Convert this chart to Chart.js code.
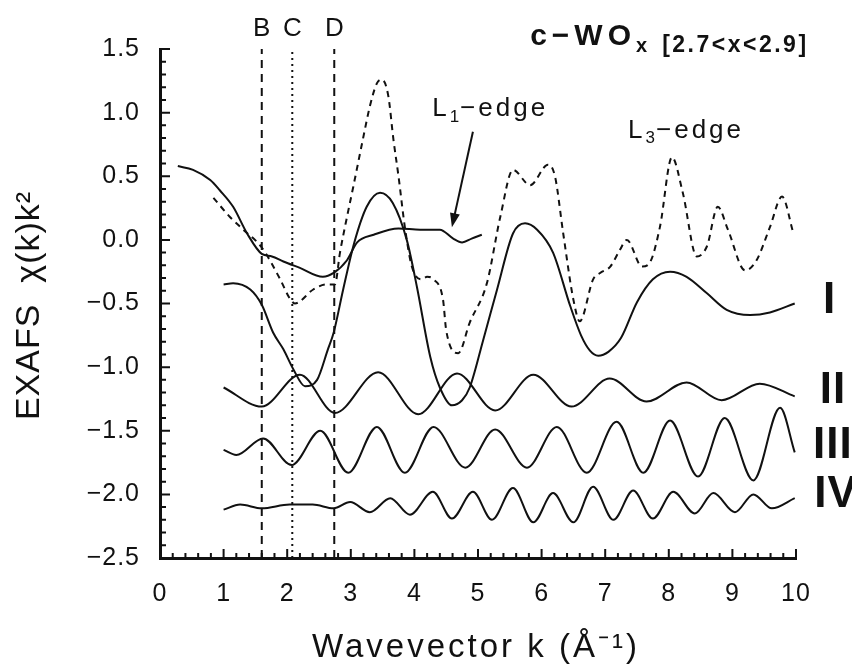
<!DOCTYPE html>
<html>
<head>
<meta charset="utf-8">
<script src="https://cdn.jsdelivr.net/npm/chart.js@4.4.1/dist/chart.umd.min.js"></script>
<style>
  body { margin: 0; background: #fff; }
  canvas { display: block; }
</style>
</head>
<body>
<canvas id="chart" width="852" height="667"></canvas>
<script>
// Values: k in 1/Å, chi(k)k^2 with the vertical offsets as plotted.
const RAW_K = [0.28, 0.52, 0.79, 0.94, 1.15, 1.37, 1.60, 1.76, 1.94, 2.20, 2.56, 2.73, 2.94, 3.10, 3.36, 3.75, 4.09, 4.40, 4.61, 4.75, 4.90, 5.06];
const RAW_V = [0.58, 0.55, 0.47, 0.39, 0.26, 0.05, -0.11, -0.13, -0.17, -0.22, -0.29, -0.26, -0.16, -0.02, 0.04, 0.09, 0.08, 0.08, 0.01, -0.02, 0.01, 0.04];

const MEAS_K = [0.84, 1.10, 1.31, 1.60, 1.89, 2.04, 2.12, 2.41, 2.62, 2.75, 2.83, 2.94, 3.04, 3.19, 3.30, 3.41, 3.49, 3.59, 3.67, 3.75,
  3.85, 3.96, 4.11, 4.20, 4.30, 4.45, 4.50, 4.69, 4.87, 5.14, 5.35, 5.55, 5.82, 6.10, 6.21, 6.34, 6.50, 6.60, 6.81, 6.92,
  7.08, 7.23, 7.34, 7.58, 7.70, 7.86, 8.05, 8.22, 8.44, 8.60, 8.77, 8.93, 9.20, 9.38, 9.59, 9.78, 9.96];
const MEAS_V = [0.33, 0.18, 0.08, -0.06, -0.31, -0.46, -0.50, -0.39, -0.35, -0.35, -0.10, 0.18, 0.42, 0.79, 1.05, 1.23, 1.26, 1.13, 0.79, 0.50,
  0.10, -0.21, -0.31, -0.29, -0.31, -0.47, -0.71, -0.89, -0.65, -0.34, 0.18, 0.55, 0.43, 0.59, 0.50, 0.05, -0.47, -0.64, -0.31, -0.26,
  -0.21, -0.08, 0.00, -0.21, -0.18, 0.10, 0.65, 0.37, -0.13, -0.05, 0.26, 0.08, -0.24, -0.16, 0.10, 0.34, 0.05];

const I_K = [1.00, 1.15, 1.42, 1.60, 1.78, 1.94, 2.10, 2.28, 2.47, 2.64, 2.73, 2.88, 3.05, 3.25, 3.46, 3.66, 3.88, 4.04, 4.25, 4.40, 4.59,
  4.75, 4.87, 5.08, 5.30, 5.55, 5.74, 5.93, 6.18, 6.45, 6.62, 6.76, 6.89, 7.05, 7.25, 7.50, 7.75, 8.02, 8.28, 8.60, 8.91, 9.28, 9.59, 9.98];
const I_V = [-0.35, -0.34, -0.39, -0.51, -0.73, -0.86, -1.02, -1.15, -1.10, -0.86, -0.73, -0.39, -0.03, 0.26, 0.37, 0.29, 0.00, -0.37, -0.92, -1.16, -1.30,
  -1.26, -1.16, -0.79, -0.39, 0.05, 0.13, 0.08, -0.10, -0.52, -0.75, -0.87, -0.91, -0.88, -0.77, -0.49, -0.31, -0.25, -0.29, -0.42, -0.55, -0.59, -0.57, -0.50];

const II_K = [1.00, 1.60, 2.20, 2.75, 3.43, 4.06, 4.67, 5.27, 5.87, 6.47, 7.07, 7.65, 8.28, 8.83, 9.43, 9.98];
const II_V = [-1.16, -1.31, -1.06, -1.36, -1.04, -1.37, -1.05, -1.34, -1.06, -1.31, -1.09, -1.27, -1.12, -1.26, -1.13, -1.23];

const III_K = [1.00, 1.20, 1.62, 2.07, 2.52, 2.96, 3.41, 3.85, 4.30, 4.80, 5.27, 5.77, 6.24, 6.71, 7.18, 7.60, 8.02, 8.46, 8.88, 9.33, 9.75, 9.98];
const III_V = [-1.65, -1.69, -1.56, -1.77, -1.50, -1.83, -1.47, -1.83, -1.47, -1.79, -1.49, -1.79, -1.47, -1.83, -1.43, -1.83, -1.42, -1.86, -1.40, -1.89, -1.32, -1.67];

const IV_K = [1.00, 1.26, 1.60, 2.04, 2.40, 2.73, 2.99, 3.30, 3.62, 3.93, 4.29, 4.59, 4.92, 5.22, 5.55, 5.87, 6.18, 6.50, 6.81, 7.13,
  7.44, 7.75, 8.07, 8.41, 8.70, 9.04, 9.33, 9.62, 9.98];
const IV_V = [-2.12, -2.08, -2.11, -2.08, -2.08, -2.11, -2.06, -2.14, -2.03, -2.16, -1.98, -2.19, -1.98, -2.20, -1.95, -2.22, -1.99, -2.22, -1.94, -2.20,
  -1.97, -2.19, -1.98, -2.15, -1.99, -2.14, -2.00, -2.11, -2.03];

// vertical guide lines B, C, D
const MARK_LABELS = ['B', 'C', 'D'];
const MARK_K = [1.60, 2.08, 2.74];

const X_MIN = 0, X_MAX = 10;
const Y_MIN = -2.5, Y_MAX = 1.5;

const FONT = "'Liberation Sans', Arial, sans-serif";
const INK = '#111';

Chart.defaults.font.family = FONT;

function toPoints(ks, vs) {
  return ks.map((k, i) => ({ x: k, y: vs[i] }));
}

function curve(ks, vs, dash) {
  return {
    data: toPoints(ks, vs),
    borderColor: INK,
    borderWidth: 2,
    borderDash: dash || [],
    pointRadius: 0,
    cubicInterpolationMode: 'monotone',
  };
}

function guide(k, dash) {
  return {
    data: [{ x: k, y: Y_MIN }, { x: k, y: Y_MAX }],
    borderColor: INK,
    borderWidth: 2,
    borderDash: dash,
    pointRadius: 0,
    tension: 0,
  };
}

// the scanned lettering is widely spaced; tick labels get a little extra
const spacing = {
  id: 'spacing',
  beforeDraw(chart) {
    chart.ctx.letterSpacing = '1px';
  },
};

// small inward ticks: 0.2 steps on k, 0.1 steps on the y axis
const inwardTicks = {
  id: 'inwardTicks',
  afterDraw(chart) {
    const { ctx, scales: { x, y } } = chart;
    ctx.save();
    ctx.strokeStyle = INK;
    ctx.lineWidth = 2;
    ctx.beginPath();
    for (let i = 0; i <= 50; i++) {
      const px = x.getPixelForValue(X_MIN + i * 0.2);
      const len = i % 5 === 0 ? 9 : 5;
      ctx.moveTo(px, y.bottom);
      ctx.lineTo(px, y.bottom - len);
    }
    for (let i = 0; i <= 40; i++) {
      const py = y.getPixelForValue(Y_MIN + i * 0.1);
      const len = i % 5 === 0 ? 10 : 6;
      ctx.moveTo(x.left, py);
      ctx.lineTo(x.left + len, py);
    }
    ctx.stroke();
    ctx.restore();
  },
};

function text(ctx, str, px, py, font, gap) {
  ctx.font = font;
  ctx.letterSpacing = (gap || 0) + 'px';
  ctx.fillText(str, px, py);
  return ctx.measureText(str).width;
}

// axis titles, labels, formula and arrow
const notes = {
  id: 'notes',
  afterDraw(chart) {
    const { ctx, scales: { x, y } } = chart;
    const px = k => x.getPixelForValue(k);
    const py = v => y.getPixelForValue(v);
    ctx.save();
    ctx.fillStyle = INK;
    ctx.strokeStyle = INK;

    // axis titles
    ctx.textAlign = 'center';
    ctx.textBaseline = 'middle';
    text(ctx, 'Wavevector k (Å⁻¹)', (x.left + x.right) / 2 - 2, 648, '33px ' + FONT, 3);
    ctx.save();
    ctx.translate(30, (y.top + y.bottom) / 2 + 2);
    ctx.rotate(-Math.PI / 2);
    text(ctx, 'EXAFS  χ(k)k²', 0, 0, '34px ' + FONT, 1);
    ctx.restore();

    ctx.textBaseline = 'alphabetic';

    // guide labels
    MARK_LABELS.forEach((s, i) => text(ctx, s, px(MARK_K[i]), py(1.60), '26px ' + FONT, 0));

    // c-WOx [2.7<x<2.9]
    ctx.textAlign = 'left';
    let cx = px(5.82);
    cx += text(ctx, 'c−WO', cx, py(1.53), 'bold 30px ' + FONT, 5);
    cx += text(ctx, 'x', cx, py(1.48), 'bold 20px ' + FONT, 0) + 15;
    text(ctx, '[2.7<x<2.9]', cx, py(1.48), 'bold 23px ' + FONT, 2.5);

    // edge labels
    cx = px(4.28);
    cx += text(ctx, 'L', cx, py(0.97), '26px ' + FONT, 3);
    cx += text(ctx, '1', cx, py(0.93), '17px ' + FONT, 1);
    text(ctx, '−edge', cx, py(0.97), '26px ' + FONT, 3);
    cx = px(7.36);
    cx += text(ctx, 'L', cx, py(0.80), '26px ' + FONT, 3);
    cx += text(ctx, '3', cx, py(0.76), '17px ' + FONT, 1);
    text(ctx, '−edge', cx, py(0.80), '26px ' + FONT, 3);

    // arrow to the L1 edge
    const x1 = px(4.92), y1 = py(0.85), x2 = px(4.59), y2 = py(0.10);
    const ang = Math.atan2(y2 - y1, x2 - x1);
    ctx.lineWidth = 2;
    ctx.beginPath();
    ctx.moveTo(x1, y1);
    ctx.lineTo(x2 - 10 * Math.cos(ang), y2 - 10 * Math.sin(ang));
    ctx.stroke();
    ctx.beginPath();
    ctx.moveTo(x2, y2);
    ctx.lineTo(x2 - 14 * Math.cos(ang) + 5 * Math.sin(ang), y2 - 14 * Math.sin(ang) - 5 * Math.cos(ang));
    ctx.lineTo(x2 - 14 * Math.cos(ang) - 5 * Math.sin(ang), y2 - 14 * Math.sin(ang) + 5 * Math.cos(ang));
    ctx.closePath();
    ctx.fill();

    // curve names
    ctx.textAlign = 'center';
    ctx.textBaseline = 'middle';
    const roman = "bold 44px 'Liberation Sans Narrow', " + FONT;
    text(ctx, 'I', px(10.52), py(-0.48), roman, 0);
    text(ctx, 'II', px(10.58), py(-1.19), roman, 1);
    text(ctx, 'III', px(10.58), py(-1.62), roman, 1);
    text(ctx, 'IV', px(10.63), py(-2.00), roman, 1);
    ctx.restore();
  },
};

new Chart(document.getElementById('chart'), {
  type: 'line',
  data: {
    datasets: [
      guide(MARK_K[0], [8, 6]),
      guide(MARK_K[1], [2, 4]),
      guide(MARK_K[2], [8, 6]),
      curve(RAW_K, RAW_V),
      curve(MEAS_K, MEAS_V, [6, 5]),
      curve(I_K, I_V),
      curve(II_K, II_V),
      curve(III_K, III_V),
      curve(IV_K, IV_V),
    ],
  },
  options: {
    responsive: false,
    animation: false,
    devicePixelRatio: 1,
    layout: { padding: { top: 49, right: 56, left: 0, bottom: 0 } },
    plugins: {
      legend: { display: false },
      tooltip: { enabled: false },
    },
    scales: {
      x: {
        type: 'linear',
        min: X_MIN,
        max: X_MAX,
        grid: { display: false },
        border: { display: true, color: INK, width: 3 },
        ticks: { stepSize: 1, color: INK, font: { size: 25 }, padding: 13 },
        afterFit: s => { s.height = 109; },
      },
      y: {
        type: 'linear',
        min: Y_MIN,
        max: Y_MAX,
        grid: { display: false },
        border: { display: true, color: INK, width: 3 },
        ticks: {
          stepSize: 0.5,
          color: INK,
          font: { size: 25 },
          padding: 12,
          callback: v => (v < 0 ? '−' : '') + Math.abs(v).toFixed(1),
        },
        afterFit: s => { s.width = 160; },
      },
    },
  },
  plugins: [spacing, inwardTicks, notes],
});
</script>
</body>
</html>
